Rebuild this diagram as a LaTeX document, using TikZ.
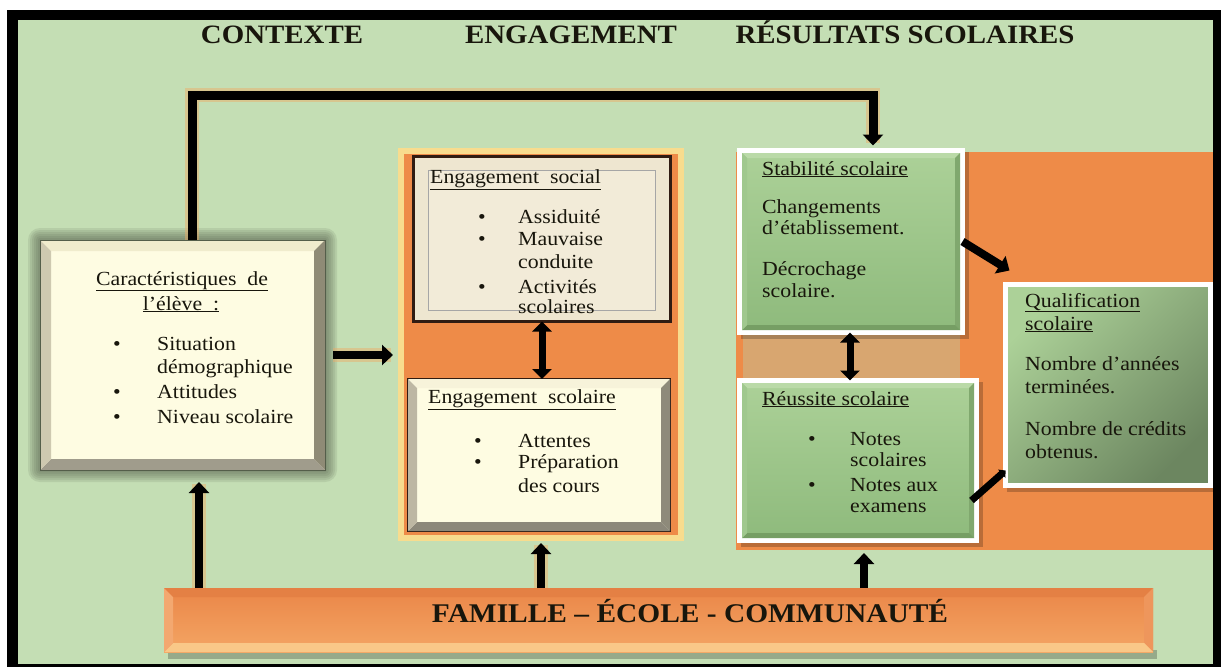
\documentclass[tikz,border=0pt]{standalone}
\usepackage{fontspec}
\setmainfont[FakeStretch=1.09]{Liberation Serif}
\usetikzlibrary{arrows.meta,calc}
\definecolor{bggreen}{RGB}{196,222,180}
\definecolor{orng}{RGB}{238,139,72}
\definecolor{frameyel}{RGB}{248,220,142}
\definecolor{cream}{RGB}{254,252,226}
\definecolor{beige}{RGB}{238,230,208}
\definecolor{beigein}{RGB}{242,235,216}
\definecolor{darkbrown}{RGB}{48,28,18}
\definecolor{ink}{RGB}{24,22,12}
\definecolor{glowc}{RGB}{84,94,74}
\definecolor{cbtop}{RGB}{240,236,205}
\definecolor{cbright}{RGB}{143,139,118}
\definecolor{cbbot}{RGB}{160,156,140}
\definecolor{cbleft}{RGB}{206,201,176}
\definecolor{ebtop}{RGB}{247,243,218}
\definecolor{ebright}{RGB}{142,138,122}
\definecolor{ebbot}{RGB}{140,136,122}
\definecolor{ebleft}{RGB}{189,183,163}
\definecolor{gtop}{RGB}{172,209,152}
\definecolor{gbot}{RGB}{142,186,124}
\definecolor{qdark}{RGB}{108,134,96}
\definecolor{gbtop}{RGB}{186,218,168}
\definecolor{gbright}{RGB}{128,168,110}
\definecolor{gbbot}{RGB}{118,158,100}
\definecolor{gbleft}{RGB}{160,200,142}
\definecolor{tanc}{RGB}{216,166,112}
\definecolor{famtop}{RGB}{234,134,72}
\definecolor{fambot}{RGB}{244,166,100}
\definecolor{fbtop}{RGB}{228,128,68}
\definecolor{fbright}{RGB}{238,150,92}
\definecolor{fbbot}{RGB}{249,200,136}
\definecolor{fbleft}{RGB}{243,168,112}
\definecolor{shadowc}{RGB}{150,170,138}
\definecolor{haloc}{RGB}{240,170,100}
\newcommand\bevelfaces[9]{%
  \fill[#6] (#1,#2) -- (#3,#2) -- ({#3-#5},{#2+#5}) -- ({#1+#5},{#2+#5}) -- cycle;
  \fill[#7] (#3,#2) -- (#3,#4) -- ({#3-#5},{#4-#5}) -- ({#3-#5},{#2+#5}) -- cycle;
  \fill[#8] (#1,#4) -- (#3,#4) -- ({#3-#5},{#4-#5}) -- ({#1+#5},{#4-#5}) -- cycle;
  \fill[#9] (#1,#2) -- ({#1+#5},{#2+#5}) -- ({#1+#5},{#4-#5}) -- (#1,#4) -- cycle;}
\begin{document}
\begin{tikzpicture}[x=1pt,y=-1pt,
  txt/.style={font=\fontsize{20}{24}\selectfont,text=ink,inner sep=0pt},
  hdr/.style={font=\fontsize{26.5}{30}\selectfont\bfseries,text=ink,inner sep=0pt,anchor=base},
  box/.style={inner sep=0pt,outer sep=0pt},
  greenbox/.style={box,draw=white,line width=5pt,top color=gtop,bottom color=gbot},
  halo/.style={draw=haloc,line width=14pt,opacity=0.45},
  arr/.style={line width=8pt,draw=black,-{Triangle[width=20pt,length=11pt]}},
  dbl/.style={line width=7pt,draw=black,{Triangle[width=19pt,length=10pt]}-{Triangle[width=19pt,length=10pt]}}
]
\useasboundingbox (0,0) rectangle (1221,667);
\fill[white] (0,0) rectangle (1221,667);
\fill[black] (7,10) rectangle (1221,667);
\fill[bggreen] (18,20) rectangle (1213,664);

% headers
\node[hdr] (hctx) at (282,43) {CONTEXTE};
\node[hdr] (heng) at (571,43) {ENGAGEMENT};
\node[hdr] (hres) at (905,43) {RÉSULTATS SCOLAIRES};

% left box with glow
\foreach \r in {2,4,...,12}
  \fill[glowc,opacity=0.13,rounded corners=\r pt] ({40-\r},{240-\r}) rectangle ({325+\r},{470+\r});
\node[box,fill=cream,minimum width=285pt,minimum height=230pt] (car) at (182.5,355) {};
\bevelfaces{40}{240}{325}{470}{11}{cbtop}{cbright}{cbbot}{cbleft}
\draw[glowc,line width=1pt] (40,240) rectangle (325,470);

% middle column
\node[box,draw=frameyel,line width=6pt,fill=orng,minimum width=280pt,minimum height=387pt] (midframe) at (541,344.5) {};
\node[box,draw=darkbrown,line width=3pt,fill=beige,minimum width=257pt,minimum height=165pt] (esoc) at (542,239) {};
\draw[gray!70,line width=0.8pt,fill=beigein] (428,170) rectangle (655,310);
\node[box,draw=darkbrown,line width=2pt,fill=cream,minimum width=262pt,minimum height=152pt] (esco) at (539,455) {};
\bevelfaces{408}{379}{670}{531}{9}{ebtop}{ebright}{ebbot}{ebleft}

% right area
\node[box,fill=orng,minimum width=477pt,minimum height=398pt] (rbg) at (974.5,351) {};
\fill[tanc] (743,335) rectangle (960,378);
\fill[black,opacity=0.22] (741,152) rectangle (969,339);
\node[greenbox,minimum width=223pt,minimum height=182pt] (stab) at (851,241.5) {};
\bevelfaces{742}{153}{960}{330}{5}{gbtop}{gbright}{gbbot}{gbleft}
\fill[black,opacity=0.22] (741,382) rectangle (983,547);
\node[greenbox,minimum width=237pt,minimum height=160pt] (reus) at (858,460.5) {};
\bevelfaces{742}{383}{974}{538}{5}{gbtop}{gbright}{gbbot}{gbleft}
\fill[black,opacity=0.22] (1007,286) rectangle (1213,492);
\node[box,draw=white,line width=5pt,top color=gtop,bottom color=qdark,shading angle=45,minimum width=205pt,minimum height=201pt] (qual) at (1108,385) {};

% bottom bar
\fill[shadowc] (168,650) rectangle (1157,659);
\node[box,top color=famtop,bottom color=fambot,minimum width=989pt,minimum height=64pt] (fam) at (658.5,620) {};
\bevelfaces{164}{588}{1153}{652}{9}{fbtop}{fbright}{fbbot}{fbleft}
\node[hdr,font=\fontsize{27}{30}\selectfont\bfseries] (famtxt) at (690,622) {FAMILLE – ÉCOLE - COMMUNAUTÉ};

% connectors
\coordinate (tl) at (192,95);
\coordinate (tr) at (873,95);
\draw[halo] ([xshift=9.5pt]car.north) -- (tl) -- (tr) -- ([yshift=8pt]tr |- stab.north);
\draw[arr,line width=9pt,shorten >=5pt] ([xshift=9.5pt]car.north) -- (tl) -- (tr) -- (tr |- stab.north);
\draw[halo,shorten <=8pt,shorten >=10pt] (car.east) -- (car.east -| midframe.west);
\draw[arr,shorten <=8pt,shorten >=8pt] (car.east) -- (car.east -| midframe.west);
\draw[dbl] (esoc.south) -- (esoc.south |- esco.north);
\draw[dbl] ([xshift=-1pt]stab.south) -- ([xshift=-1pt]stab.south |- reus.north);
\draw[arr] (stab.east) -- ([xshift=4pt,yshift=14pt]qual.north west);
\draw[line width=7pt,draw=black,-{Triangle[width=11pt,length=5pt]}] ([xshift=-5pt,yshift=-40pt]reus.east) -- ([yshift=15pt]qual.south west);
\draw[halo,shorten >=14pt] ([xshift=35pt]fam.north west) -- ([xshift=35pt]fam.north west |- car.south);
\draw[arr,shorten >=12pt] ([xshift=35pt]fam.north west) -- ([xshift=35pt]fam.north west |- car.south);
\draw[halo,shorten >=7pt] (fam.north -| midframe.south) -- (midframe.south);
\draw[arr,shorten >=5pt] (fam.north -| midframe.south) -- (midframe.south);
\draw[arr,shorten >=3pt] ([xshift=6pt]fam.north -| reus.south) -- ([xshift=6pt]rbg.south -| reus.south);

% left box text
\node[txt,anchor=base] (ct1) at (182,285) {\underline{Caractéristiques~~de}};
\node[txt,anchor=base] (ct2) at (181,310) {\underline{l’élève~~:}};
\node[txt,anchor=base] (cb1) at (117,350) {\textbullet};
\node[txt,anchor=base] (cb2) at (117,398) {\textbullet};
\node[txt,anchor=base] (cb3) at (117,423) {\textbullet};
\node[txt,anchor=base west] (cl1) at (157,350) {Situation};
\node[txt,anchor=base west] (cl2) at (157,373) {démographique};
\node[txt,anchor=base west] (cl3) at (157,398) {Attitudes};
\node[txt,anchor=base west] (cl4) at (157,423) {Niveau scolaire};

% engagement social text
\node[txt,anchor=base west] (st) at (430,183) {\underline{Engagement~~social}};
\node[txt,anchor=base] (sb1) at (482,223) {\textbullet};
\node[txt,anchor=base] (sb2) at (482,245) {\textbullet};
\node[txt,anchor=base] (sb3) at (482,293) {\textbullet};
\node[txt,anchor=base west] (sl1) at (518,223) {Assiduité};
\node[txt,anchor=base west] (sl2) at (518,245) {Mauvaise};
\node[txt,anchor=base west] (sl3) at (518,268) {conduite};
\node[txt,anchor=base west] (sl4) at (518,293) {Activités};
\node[txt,anchor=base west] (sl5) at (518,313) {scolaires};

% engagement scolaire text
\node[txt,anchor=base west] (et) at (428,403) {\underline{Engagement~~scolaire}};
\node[txt,anchor=base] (eb1) at (478,447) {\textbullet};
\node[txt,anchor=base] (eb2) at (478,468) {\textbullet};
\node[txt,anchor=base west] (el1) at (518,447) {Attentes};
\node[txt,anchor=base west] (el2) at (518,468) {Préparation};
\node[txt,anchor=base west] (el3) at (518,492) {des cours};

% stabilite text
\node[txt,anchor=base west] (stt) at (762,175) {\underline{Stabilité scolaire}};
\node[txt,anchor=base west] (stl1) at (762,213) {Changements};
\node[txt,anchor=base west] (stl2) at (762,234) {d’établissement.};
\node[txt,anchor=base west] (stl3) at (762,275) {Décrochage};
\node[txt,anchor=base west] (stl4) at (762,297) {scolaire.};

% reussite text
\node[txt,anchor=base west] (rt) at (762,405) {\underline{Réussite scolaire}};
\node[txt,anchor=base] (rb1) at (812,445) {\textbullet};
\node[txt,anchor=base] (rb2) at (812,491) {\textbullet};
\node[txt,anchor=base west] (rl1) at (850,445) {Notes};
\node[txt,anchor=base west] (rl2) at (850,466) {scolaires};
\node[txt,anchor=base west] (rl3) at (850,491) {Notes aux};
\node[txt,anchor=base west] (rl4) at (850,512) {examens};

% qualification text
\node[txt,anchor=base west] (qt1) at (1025,307) {\underline{Qualification}};
\node[txt,anchor=base west] (qt2) at (1025,330) {\underline{scolaire}};
\node[txt,anchor=base west] (ql1) at (1025,370) {Nombre d’années};
\node[txt,anchor=base west] (ql2) at (1025,393) {terminées.};
\node[txt,anchor=base west] (ql3) at (1025,435) {Nombre de crédits};
\node[txt,anchor=base west] (ql4) at (1025,458) {obtenus.};
\end{tikzpicture}
\end{document}
